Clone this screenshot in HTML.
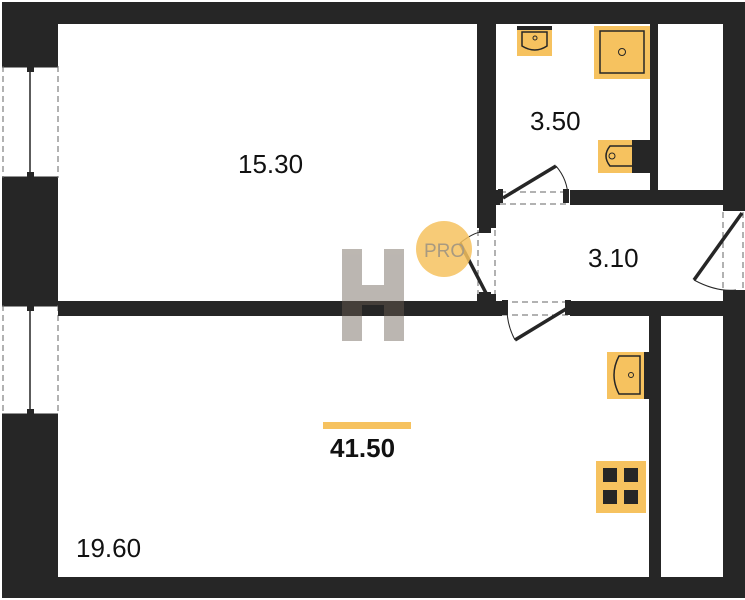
<!DOCTYPE html>
<html><head><meta charset="utf-8"><style>
html,body{margin:0;padding:0;background:#fff;}
svg{display:block;}
text{font-family:"Liberation Sans",sans-serif;}
</style></head><body>
<svg width="745" height="600" viewBox="0 0 745 600" xmlns="http://www.w3.org/2000/svg">
<rect x="0" y="0" width="745" height="600" fill="#fff"/>
<!-- outer walls -->
<rect x="2" y="2" width="743" height="22" fill="#262626"/>
<rect x="2" y="577" width="743" height="21" fill="#262626"/>
<rect x="2" y="2" width="56" height="596" fill="#262626"/>
<rect x="723" y="2" width="22" height="596" fill="#262626"/>
<!-- window openings left -->
<rect x="2" y="66" width="56" height="112" fill="#fff"/>
<rect x="2" y="305" width="56" height="110" fill="#fff"/>
<g stroke="#262626" fill="none">
<line x1="2" y1="66" x2="58" y2="66" stroke-width="3"/>
<line x1="2" y1="178" x2="58" y2="178" stroke-width="3"/>
<line x1="2" y1="305" x2="58" y2="305" stroke-width="3"/>
<line x1="2" y1="415" x2="58" y2="415" stroke-width="3"/>
<line x1="3" y1="66" x2="3" y2="178" stroke-dasharray="6,4" stroke="#666"/>
<line x1="58" y1="66" x2="58" y2="178" stroke-dasharray="6,4" stroke="#666"/>
<line x1="3" y1="305" x2="3" y2="415" stroke-dasharray="6,4" stroke="#666"/>
<line x1="58" y1="305" x2="58" y2="415" stroke-dasharray="6,4" stroke="#666"/>
<line x1="30" y1="68" x2="30" y2="176" stroke-width="1.5"/>
<line x1="30" y1="307" x2="30" y2="413" stroke-width="1.5"/>
</g>
<rect x="27" y="67" width="7" height="5" fill="#262626"/><rect x="27" y="172" width="7" height="5" fill="#262626"/>
<rect x="27" y="306" width="7" height="5" fill="#262626"/><rect x="27" y="409" width="7" height="5" fill="#262626"/>
<!-- interior walls -->
<rect x="58" y="301" width="444" height="15" fill="#262626"/>
<rect x="570" y="301" width="153" height="15" fill="#262626"/>
<rect x="477" y="24" width="19" height="204" fill="#262626"/>
<rect x="477" y="294" width="19" height="22" fill="#262626"/>
<rect x="496" y="190" width="4" height="15" fill="#262626"/>
<rect x="570" y="190" width="175" height="15" fill="#262626"/>
<rect x="650" y="24" width="8" height="166" fill="#262626"/>
<rect x="649" y="316" width="12" height="261" fill="#262626"/>
<!-- right door opening -->
<rect x="723" y="210" width="22" height="82" fill="#fff"/>
<rect x="723" y="207" width="22" height="4" fill="#262626"/><rect x="723" y="290" width="22" height="4" fill="#262626"/>
<g stroke="#666" stroke-dasharray="6,4" fill="none">
<line x1="723" y1="212" x2="723" y2="290"/><line x1="743" y1="212" x2="743" y2="290"/>
<line x1="500" y1="192" x2="570" y2="192"/><line x1="500" y1="204" x2="570" y2="204"/>
<line x1="502" y1="302" x2="570" y2="302"/><line x1="502" y1="315" x2="570" y2="315"/>
<line x1="478" y1="230" x2="478" y2="294"/><line x1="495" y1="230" x2="495" y2="294"/>
</g>
<!-- doors -->
<g stroke="#262626" fill="none">
<line x1="503" y1="198" x2="556" y2="166" stroke-width="3.5"/>
<path d="M556 166 Q568 180 568 198" stroke-width="1"/>
<line x1="742" y1="213" x2="694" y2="280" stroke-width="3.5"/>
<path d="M694 280 Q716 292 736 290" stroke-width="1"/>
<line x1="566" y1="309" x2="515" y2="340" stroke-width="3.5"/>
<path d="M515 340 Q507 325 507 309" stroke-width="1"/>
<line x1="487" y1="295" x2="460" y2="243" stroke-width="3.5"/>
<path d="M460 243 Q475 231 487 231" stroke-width="1"/>
</g>
<g fill="#262626">
<rect x="498" y="189" width="5" height="14"/><rect x="563" y="189" width="6" height="14"/>
<rect x="502" y="300" width="6" height="15"/><rect x="565" y="300" width="6" height="15"/>
<rect x="479" y="228" width="12" height="5"/><rect x="479" y="292" width="12" height="5"/>
</g>
<!-- bathroom fixtures -->
<rect x="517" y="26" width="35" height="30" fill="#f6c25f"/>
<rect x="517" y="26" width="35" height="4" fill="#262626"/>
<path d="M522 32 L547 32 L547 46 Q535 54 522 46 Z" fill="none" stroke="#262626" stroke-width="1.5"/>
<circle cx="535" cy="38" r="2" fill="none" stroke="#262626"/>
<rect x="594" y="26" width="56" height="53" fill="#f6c25f"/>
<rect x="600" y="31" width="44" height="42" fill="none" stroke="#262626" stroke-width="1.5"/>
<circle cx="622" cy="52" r="3.5" fill="none" stroke="#262626"/>
<rect x="598" y="140" width="38" height="33" fill="#f6c25f"/>
<rect x="632" y="140" width="18" height="33" fill="#262626"/>
<path d="M632 146 L610 146 Q602 156 610 166 L632 166" fill="none" stroke="#262626" stroke-width="1.5"/>
<circle cx="612" cy="156" r="3" fill="none" stroke="#262626"/>
<!-- kitchen fixtures -->
<rect x="607" y="352" width="38" height="47" fill="#f6c25f"/>
<rect x="644" y="352" width="5" height="47" fill="#262626"/>
<path d="M640 356 L619 356 Q609 375 619 394 L640 394 Z" fill="none" stroke="#262626" stroke-width="1.5"/>
<circle cx="631" cy="375" r="2.5" fill="none" stroke="#262626"/>
<rect x="596" y="461" width="50" height="52" fill="#f6c25f"/>
<g fill="#262626"><rect x="603" y="468" width="14" height="14"/><rect x="624" y="468" width="14" height="14"/><rect x="603" y="490" width="14" height="14"/><rect x="624" y="490" width="14" height="14"/></g>
<!-- logos -->
<circle cx="444" cy="249" r="28" fill="#f6c25f" opacity="0.85"/>
<text x="424" y="257" font-size="19" fill="#a89a80">PRO</text>
<g opacity="0.45" fill="#6b5f53">
<rect x="342" y="249" width="20" height="92"/><rect x="384" y="249" width="20" height="92"/><rect x="362" y="285" width="22" height="20"/>
</g>
<rect x="323" y="422" width="88" height="7" fill="#f6c25f"/>
<!-- labels -->
<text x="238" y="173" font-size="26" fill="#111">15.30</text>
<text x="530" y="130" font-size="26" fill="#111">3.50</text>
<text x="588" y="267" font-size="26" fill="#111">3.10</text>
<text x="330" y="457" font-size="26" font-weight="bold" fill="#111">41.50</text>
<text x="76" y="557" font-size="26" fill="#111">19.60</text>
</svg>
</body></html>
